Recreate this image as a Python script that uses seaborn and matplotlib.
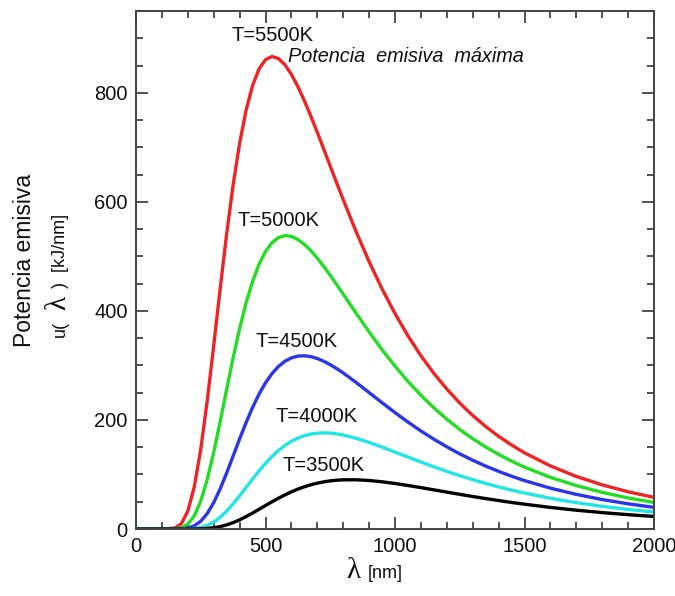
import numpy as np
import pandas as pd
import matplotlib.pyplot as plt
import seaborn as sns
from matplotlib.ticker import MultipleLocator

# Wavelength grid (nm) and readings of u(lambda) [kJ/nm] for each temperature
wavelength = [0, 100, 150, 175, 200, 225, 250, 275, 300, 325, 350, 375, 400, 425,
              450, 475, 500, 525, 550, 575, 600, 625, 650, 675, 700, 725, 750, 775,
              800, 850, 900, 950, 1000, 1050, 1100, 1150, 1200, 1250, 1300, 1350,
              1400, 1450, 1500, 1600, 1700, 1800, 1900, 2000]

u_5500 = [0, 0, 1.8, 9.8, 32.7, 77.5, 146.4, 235.4, 336.6, 441.3, 541.5, 631.5, 707.6, 768.3,
          813.5, 843.8, 861.0, 866.7, 862.9, 851.5, 833.8, 811.4, 785.5, 757.2, 727.3, 696.5, 665.4, 634.4,
          604.0, 545.1, 490.4, 440.3, 395.0, 354.3, 317.8, 285.4, 256.6, 230.9, 208.2, 188.0,
          170.0, 154.0, 139.7, 115.7, 96.4, 80.9, 68.3, 58.0]
u_5000 = [0, 0, 0.3, 2.2, 8.8, 24.2, 51.4, 90.9, 140.7, 197.3, 256.4, 314.2, 367.7, 414.8,
          454.2, 485.6, 509.1, 525.2, 534.6, 538.2, 536.7, 531.1, 522.1, 510.5, 496.7, 481.5, 465.1, 448.2,
          430.7, 395.7, 361.5, 328.9, 298.7, 270.7, 245.3, 222.2, 201.3, 182.5, 165.6, 150.4,
          136.8, 124.5, 113.5, 94.8, 79.6, 67.2, 57.0, 48.7]
u_4500 = [0, 0, 0, 0.35, 1.8, 5.9, 14.3, 28.4, 48.5, 73.8, 102.8, 133.9, 165.3, 195.3,
          223.0, 247.5, 268.2, 285.1, 298.2, 307.8, 313.9, 317.2, 317.8, 316.2, 312.7, 307.7, 301.4, 294.2,
          286.2, 268.7, 250.2, 231.6, 213.5, 196.1, 179.8, 164.7, 150.7, 137.8, 126.1, 115.4,
          105.7, 96.8, 88.8, 74.9, 63.5, 54.0, 46.2, 39.7]
u_4000 = [0, 0, 0, 0.04, 0.24, 1.0, 2.9, 6.7, 12.8, 21.6, 32.8, 46.1, 60.8, 76.3,
          91.7, 106.6, 120.5, 133.0, 144.0, 153.3, 160.9, 166.8, 171.2, 174.2, 175.8, 176.4, 175.9, 174.5,
          172.4, 166.4, 158.8, 150.2, 141.1, 131.9, 122.9, 114.1, 105.7, 97.9, 90.5, 83.6,
          77.2, 71.4, 66.0, 56.4, 48.3, 41.6, 35.9, 31.1]
u_3500 = [0, 0, 0, 0, 0.02, 0.1, 0.37, 1.0, 2.3, 4.4, 7.6, 11.7, 16.8, 22.8,
          29.3, 36.1, 43.1, 49.9, 56.5, 62.6, 68.2, 73.2, 77.5, 81.2, 84.1, 86.5, 88.3, 89.5,
          90.2, 90.3, 89.0, 86.6, 83.5, 79.8, 75.9, 71.8, 67.7, 63.6, 59.6, 55.8,
          52.2, 48.7, 45.5, 39.6, 34.5, 30.1, 26.3, 23.0]

series = [("T=5500K", u_5500, "#ee2424"),
          ("T=5000K", u_5000, "#22dd22"),
          ("T=4500K", u_4500, "#2a36e6"),
          ("T=4000K", u_4000, "#22e6e6"),
          ("T=3500K", u_3500, "#000000")]

# label positions (nm, kJ/nm)
label_pos = {"T=5500K": (370, 895),
             "T=5000K": (390, 555),
             "T=4500K": (460, 334),
             "T=4000K": (537, 197),
             "T=3500K": (567, 106)}

sns.set_style("ticks")
plt.rcParams['font.family'] = ['Liberation Sans', 'DejaVu Sans']

fig = plt.figure(figsize=(6.75, 5.96), dpi=100)
ax = fig.add_axes([0.2015, 0.1124, 0.7675, 0.869])

for name, vals, col in series:
    sns.lineplot(x=wavelength, y=vals, color=col, linewidth=2.4, ax=ax)
    lx, ly = label_pos[name]
    ax.text(lx, ly, name, fontsize=14.5, color='#111111')

ax.text(588, 857, "Potencia  emisiva  máxima", fontsize=14.3, style='italic', color='#111111')

ax.set_xlim(0, 2000)
ax.set_ylim(0, 950)
ax.xaxis.set_major_locator(MultipleLocator(500))
ax.xaxis.set_minor_locator(MultipleLocator(100))
ax.yaxis.set_major_locator(MultipleLocator(200))
ax.yaxis.set_minor_locator(MultipleLocator(50))
ax.tick_params(which='both', direction='in', top=True, right=True, width=1.3, color='#444444')
ax.tick_params(which='major', length=8.5, labelsize=14.5, labelcolor='#111111', pad=6)
ax.tick_params(which='minor', length=5)
for sp in ax.spines.values():
    sp.set_linewidth(1.4)
    sp.set_color('#444444')

# axis labels
fig.text(0.036, 0.563, "Potencia emisiva", rotation=90, fontsize=16.5, ha='center', va='center', color='#111111')
fig.text(0.090, 0.434, "u(", rotation=90, fontsize=13, ha='center', va='bottom', color='#111111')
fig.text(0.087, 0.492, "λ", rotation=90, fontsize=21, family='Liberation Serif', ha='center', va='center', color='#111111')
fig.text(0.090, 0.516, ")  [kJ/nm]", rotation=90, fontsize=13, ha='center', va='bottom', color='#111111')

fig.text(0.523, 0.031, "λ", fontsize=21, family='Liberation Serif', ha='center', va='baseline', color='#111111')
fig.text(0.545, 0.031, "[nm]", fontsize=13, ha='left', va='baseline', color='#111111')

fig.savefig('out.png', dpi=100)
